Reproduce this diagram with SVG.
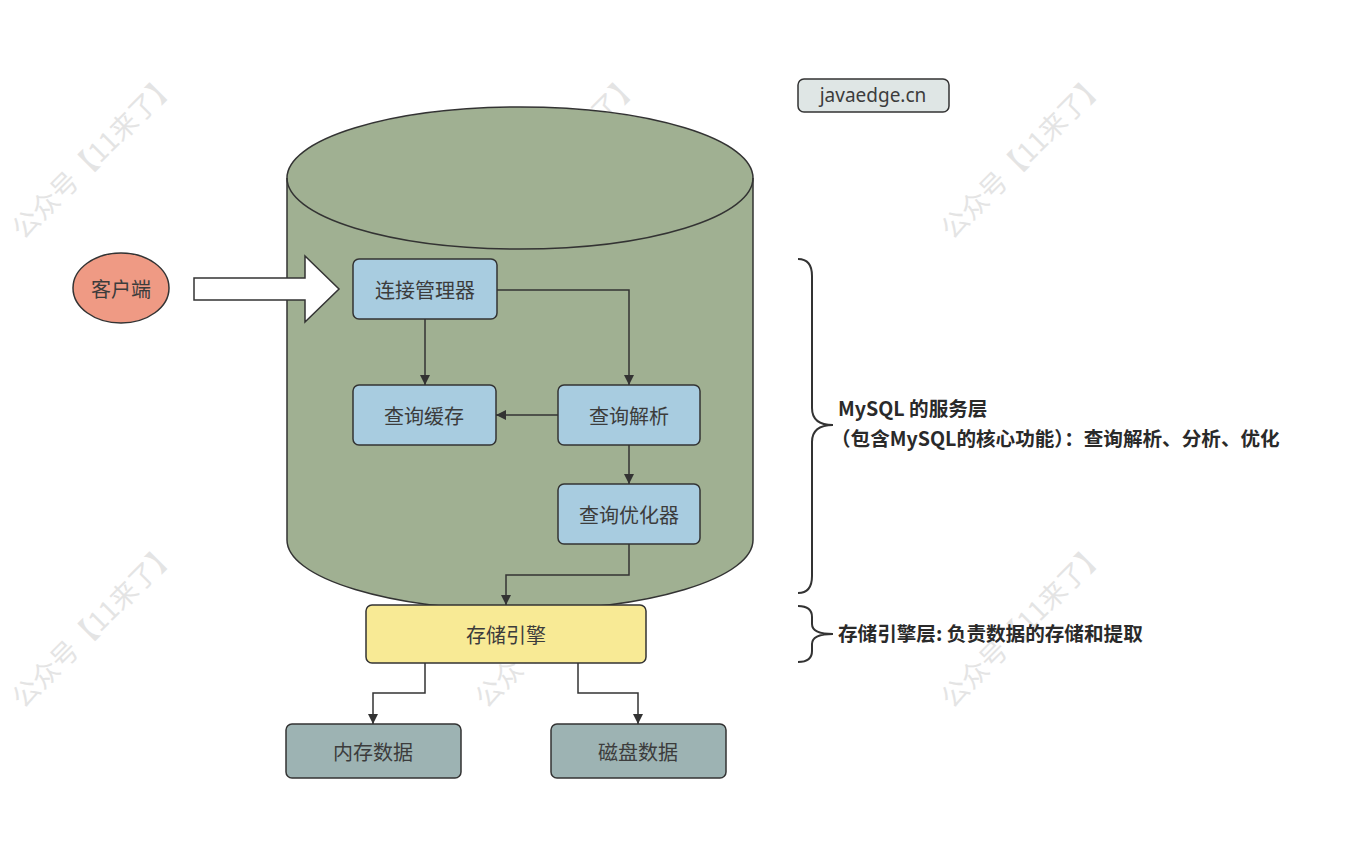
<svg xmlns="http://www.w3.org/2000/svg" width="1356" height="866" viewBox="0 0 1356 866">
<defs>
<style>
.wm{font-family:"Noto Sans CJK SC","Noto Sans",sans-serif;font-size:27px;fill:#e4e4e4;text-anchor:middle}
.box{stroke:#333;stroke-width:1.5}
.lbl{font-family:"Noto Sans CJK SC","Noto Sans",sans-serif;font-size:20px;fill:#3c3c3c;text-anchor:middle;dominant-baseline:central}
.note{font-family:"Noto Sans CJK SC","Noto Sans",sans-serif;font-size:19.6px;font-weight:600;fill:#2a2a2a}
.conn{fill:none;stroke:#333;stroke-width:1.5}
.brace{fill:none;stroke:#333;stroke-width:2}
</style>
<marker id="ah" viewBox="0 0 10 10" refX="10" refY="5" markerWidth="10" markerHeight="10" markerUnits="userSpaceOnUse" orient="auto">
<path d="M0,0 L10,5 L0,10 Z" fill="#333"/>
</marker>
</defs>
<rect width="1356" height="866" fill="#fff"/>
<g id="watermarks">
<text class="wm" transform="translate(101,163) rotate(-45)">公众号【11来了】</text>
<text class="wm" transform="translate(564,163) rotate(-45)">公众号【11来了】</text>
<text class="wm" transform="translate(1030,163) rotate(-45)">公众号【11来了】</text>
<text class="wm" transform="translate(101,632) rotate(-45)">公众号【11来了】</text>
<text class="wm" transform="translate(564,632) rotate(-45)">公众号【11来了】</text>
<text class="wm" transform="translate(1030,632) rotate(-45)">公众号【11来了】</text>
</g>
<g id="cylinder">
<path d="M287,178 L287,540 A233,70 0 0 0 753,540 L753,178 A233,71 0 0 0 287,178 Z" fill="#a0b092" stroke="#333" stroke-width="1.5"/>
<path d="M287,178 A233,71 0 0 0 753,178" fill="none" stroke="#333" stroke-width="1.5"/>
</g>
<g id="client">
<ellipse cx="121" cy="288" rx="48" ry="35" fill="#ef9a84" class="box"/>
<text class="lbl" x="121" y="288">客户端</text>
</g>
<g id="bigarrow">
<path d="M194,278 L305,278 L305,256 L339,289 L305,322 L305,300 L194,300 Z" fill="#fff" stroke="#333" stroke-width="1.5"/>
</g>
<g id="javaedge">
<rect x="798" y="79" width="151" height="33" rx="6" fill="#dfe6e5" class="box"/>
<text class="lbl" x="873" y="95" style="font-family:'Noto Sans','Noto Sans CJK SC',sans-serif;font-size:19px">javaedge.cn</text>
</g>
<g id="conn-mgr">
<rect x="353" y="259" width="144" height="60" rx="6" fill="#a8cce0" class="box"/>
<text class="lbl" x="425" y="289">连接管理器</text>
</g>
<g id="query-cache">
<rect x="353" y="385" width="143" height="60" rx="6" fill="#a8cce0" class="box"/>
<text class="lbl" x="424" y="415">查询缓存</text>
</g>
<g id="query-parse">
<rect x="558" y="385" width="142" height="60" rx="6" fill="#a8cce0" class="box"/>
<text class="lbl" x="629" y="415">查询解析</text>
</g>
<g id="query-opt">
<rect x="558" y="484" width="142" height="60" rx="6" fill="#a8cce0" class="box"/>
<text class="lbl" x="629" y="514">查询优化器</text>
</g>
<g id="storage-engine">
<rect x="366" y="605" width="280" height="58" rx="6" fill="#f8ea95" class="box"/>
<text class="lbl" x="506" y="634">存储引擎</text>
</g>
<g id="mem-data">
<rect x="286" y="724" width="175" height="54" rx="6" fill="#9db3b3" class="box"/>
<text class="lbl" x="373" y="751">内存数据</text>
</g>
<g id="disk-data">
<rect x="551" y="724" width="175" height="54" rx="6" fill="#9db3b3" class="box"/>
<text class="lbl" x="638" y="751">磁盘数据</text>
</g>
<g id="connectors">
<path class="conn" d="M425,319 L425,385" marker-end="url(#ah)"/>
<path class="conn" d="M497,290 L629,290 L629,385" marker-end="url(#ah)"/>
<path class="conn" d="M558,415 L496,415" marker-end="url(#ah)"/>
<path class="conn" d="M629,445 L629,484" marker-end="url(#ah)"/>
<path class="conn" d="M629,544 L629,575 L506,575 L506,605" marker-end="url(#ah)"/>
<path class="conn" d="M425,663 L425,693 L373,693 L373,724" marker-end="url(#ah)"/>
<path class="conn" d="M578,663 L578,693 L638,693 L638,724" marker-end="url(#ah)"/>
</g>
<g id="braces">
<path class="brace" d="M798,259 Q812,259 812,276 L812,408 Q812,425 833,425 Q812,425 812,442 L812,576 Q812,593 798,593"/>
<path class="brace" d="M798,606 Q812,606 812,617 L812,624 Q812,634 833,634 Q812,634 812,644 L812,651 Q812,662 798,662"/>
</g>
<g id="notes">
<text class="note" x="838" y="416">MySQL 的服务层</text>
<text class="note" x="831" y="446">（包含MySQL的核心功能）：查询解析、分析、优化</text>
<text class="note" x="838" y="641">存储引擎层: 负责数据的存储和提取</text>
</g>
</svg>
